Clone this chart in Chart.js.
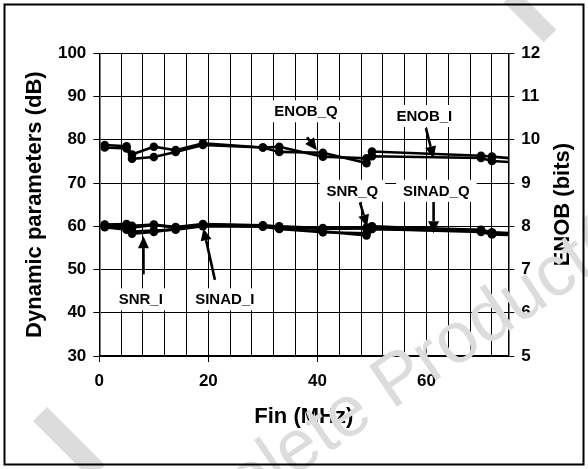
<!DOCTYPE html>
<html><head><meta charset="utf-8">
<script src="https://cdn.jsdelivr.net/npm/chart.js@4/dist/chart.umd.min.js"></script>
<style>html,body{margin:0;padding:0;background:#fff;overflow:hidden}</style>
</head><body>
<canvas id="c" width="588" height="469"></canvas>
<script>
// ---- data ----
const freqMHz = [1, 5, 6, 10, 14, 19, 30, 33, 41, 49, 50, 70, 72, 80];
const snrI    = [60.4, 60.5, 60.1, 60.4, 59.8, 60.5, 60.2, 59.9, 59.4, 59.5, 59.9, 59.2, 58.6, 58.2];
const sinadI  = [60.0, 59.4, 58.3, 58.7, 59.4, 60.2, 60.0, 59.5, 58.8, 57.9, 59.4, 58.9, 58.2, 57.9];
const snrQ    = [60.3, 60.3, 59.7, 60.3, 59.7, 60.4, 60.1, 60.0, 59.6, 59.7, 60.0, 59.0, 58.5, 58.0];
const sinadQ  = [59.8, 59.2, 58.8, 59.0, 59.2, 60.0, 59.9, 59.4, 58.6, 58.4, 59.4, 58.7, 58.1, 57.8];
const enobI   = [9.88, 9.85, 9.66, 9.84, 9.76, 9.92, 9.82, 9.84, 9.61, 9.57, 9.73, 9.63, 9.61, 9.52];
const enobQ   = [9.82, 9.80, 9.56, 9.60, 9.72, 9.88, 9.82, 9.72, 9.70, 9.46, 9.62, 9.58, 9.51, 9.45];

const xTitle = 'Fin (MHz)';
const yTitle = 'Dynamic parameters (dB)';
const y2Title = 'ENOB (bits)';

// annotation labels (data units: MHz, dB)
const annLabels = ['ENOB_Q', 'ENOB_I', 'SNR_Q', 'SINAD_Q', 'SNR_I', 'SINAD_I'];
const annTextX  = [37.9, 59.6, 46.4, 61.8, 7.6, 23.0];
const annTextY  = [86.6, 85.5, 68.2, 68.2, 43.1, 43.1];
const annFromX  = [38.1, 59.9, 47.8, 61.3, 8.1, 21.2];
const annFromY  = [80.6, 82.7, 65.5, 65.6, 48.9, 47.6];
const annToX    = [39.9, 61.3, 49.1, 61.3, 8.1, 19.1];
const annToY    = [77.6, 75.7, 59.9, 58.4, 57.7, 59.5];

const FONT = '"Liberation Sans", Arial, Helvetica, sans-serif';
Chart.defaults.font.family = FONT;
Chart.defaults.color = '#000';

function mk(label, arr, axis) {
  return {
    label, yAxisID: axis,
    data: freqMHz.map((f, i) => ({x: f, y: arr[i]})),
    borderColor: '#000', backgroundColor: '#000',
    borderWidth: 2.6, pointRadius: 4.3, pointHoverRadius: 4.3,
    pointBorderWidth: 0, tension: 0
  };
}

function arrow(ctx, x1, y1, x2, y2) {
  const a = Math.atan2(y2 - y1, x2 - x1);
  const hl = 12, hw = 5.5;
  const bx = x2 - hl * Math.cos(a), by = y2 - hl * Math.sin(a);
  ctx.lineWidth = 2.6; ctx.strokeStyle = '#000'; ctx.fillStyle = '#000';
  ctx.beginPath(); ctx.moveTo(x1, y1); ctx.lineTo(bx, by); ctx.stroke();
  ctx.beginPath();
  ctx.moveTo(x2, y2);
  ctx.lineTo(bx + hw * Math.sin(a), by - hw * Math.cos(a));
  ctx.lineTo(bx - hw * Math.sin(a), by + hw * Math.cos(a));
  ctx.closePath(); ctx.fill();
}

const extras = {
  id: 'extras',
  afterDraw(chart) {
    const ctx = chart.ctx, xs = chart.scales.x, ys = chart.scales.y, y2 = chart.scales.y2;
    const ca = chart.chartArea;
    ctx.save();
    // annotations
    ctx.font = 'bold 15px ' + FONT;
    ctx.textAlign = 'center'; ctx.textBaseline = 'middle';
    for (let i = 0; i < annLabels.length; i++) {
      const tx = xs.getPixelForValue(annTextX[i]), ty = ys.getPixelForValue(annTextY[i]);
      const w = ctx.measureText(annLabels[i]).width;
      ctx.fillStyle = '#fff';
      ctx.fillRect(tx - w / 2 - 7, ty - 11, w + 14, 22);
      ctx.fillStyle = '#000';
      ctx.fillText(annLabels[i], tx, ty + 1);
      arrow(ctx, xs.getPixelForValue(annFromX[i]), ys.getPixelForValue(annFromY[i]),
                 xs.getPixelForValue(annToX[i]), ys.getPixelForValue(annToY[i]));
    }
    // right axis title
    ctx.save();
    ctx.translate(y2.left + 55, (ca.top + ca.bottom) / 2);
    ctx.rotate(-Math.PI / 2);
    ctx.font = 'bold 22px ' + FONT;
    ctx.fillStyle = '#000';
    ctx.textAlign = 'center'; ctx.textBaseline = 'middle';
    ctx.fillText(y2Title, 0, 0);
    ctx.restore();
    // watermark
    ctx.save();
    ctx.fillStyle = '#dcdcdc';
    ctx.font = '72px ' + FONT;
    ctx.textAlign = 'left'; ctx.textBaseline = 'alphabetic';
    ctx.translate(392, 410);
    ctx.rotate(-34 * Math.PI / 180);
    const pre = ctx.measureText('Obsolete ').width;
    ctx.fillText('Obsolete Product(s)', -pre, 0);
    ctx.restore();
    ctx.strokeStyle = '#dcdcdc'; ctx.lineCap = 'butt';
    ctx.lineWidth = 18;
    ctx.beginPath(); ctx.moveTo(510, -4); ctx.lineTo(550, 36); ctx.stroke();
    ctx.lineWidth = 20;
    ctx.beginPath(); ctx.moveTo(40, 414); ctx.lineTo(98, 472); ctx.stroke();
    // frame
    ctx.strokeStyle = '#000'; ctx.lineWidth = 2;
    ctx.strokeRect(4.5, 4.5, 579, 460);
    ctx.restore();
  }
};

new Chart(document.getElementById('c'), {
  type: 'line',
  data: {
    datasets: [
      mk('SNR_I', snrI, 'y'), mk('SINAD_I', sinadI, 'y'),
      mk('SNR_Q', snrQ, 'y'), mk('SINAD_Q', sinadQ, 'y'),
      mk('ENOB_I', enobI, 'y2'), mk('ENOB_Q', enobQ, 'y2')
    ]
  },
  options: {
    responsive: false, animation: false, devicePixelRatio: 1,
    layout: {padding: {top: 53.3, left: 0, right: 0, bottom: 0}},
    plugins: {legend: {display: false}, tooltip: {enabled: false}},
    scales: {
      x: {
        type: 'linear', position: 'bottom', min: 0, max: 75,
        ticks: {stepSize: 4, includeBounds: false, autoSkip: false, maxRotation: 0,
                callback: v => (v % 20 === 0 ? String(v) : ''),
                font: {size: 17, weight: 'bold'}, color: '#000', padding: 9},
        grid: {color: '#000', lineWidth: 1, tickLength: 6,
               tickColor: c => (c.tick && c.tick.value % 20 === 0 ? '#000' : 'rgba(0,0,0,0)')},
        border: {display: true, color: '#000', width: 1.5},
        title: {display: true, text: xTitle, font: {size: 22, weight: 'bold'}, color: '#000',
                padding: {top: 0, bottom: 39}},
        afterFit: s => { s.height = 113; }
      },
      y: {
        position: 'left', min: 30, max: 100,
        ticks: {stepSize: 10, font: {size: 17, weight: 'bold'}, color: '#000', padding: 7},
        grid: {color: '#000', lineWidth: 1, tickLength: 6},
        border: {display: true, color: '#000', width: 1.5},
        title: {display: true, text: yTitle, font: {size: 22, weight: 'bold'}, color: '#000',
                padding: {top: 21.5, bottom: 0}},
        afterFit: s => { s.width = 99.3; }
      },
      y2: {
        position: 'right', min: 5, max: 12,
        ticks: {stepSize: 1, font: {size: 17, weight: 'bold'}, color: '#000', padding: 7},
        grid: {drawOnChartArea: false, color: '#000', tickLength: 6},
        border: {display: true, color: '#000', width: 1.5},
        afterFit: s => { s.width = 79.7; }
      }
    }
  },
  plugins: [extras]
});
</script>
</body></html>
